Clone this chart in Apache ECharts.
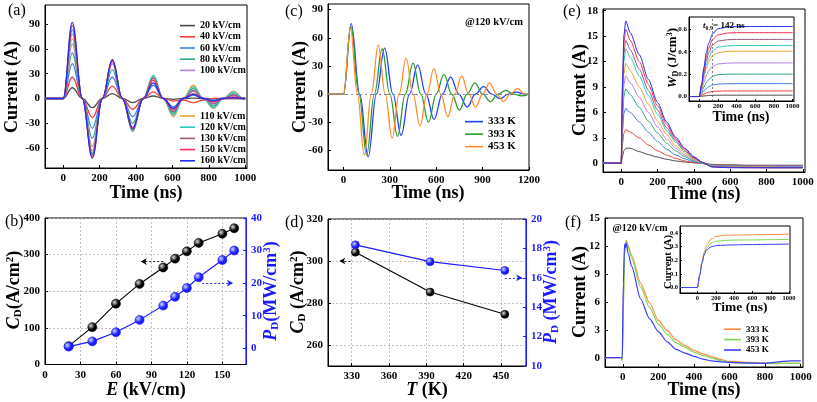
<!DOCTYPE html>
<html><head><meta charset="utf-8">
<script src="https://cdn.jsdelivr.net/npm/echarts@6/dist/echarts.min.js"></script>
<style>html,body{margin:0;padding:0;background:#fff}#c{width:817px;height:402px}</style>
</head><body><div id="c"></div>
<script>
// ---------- DATA ----------
const fields = ['20 kV/cm','40 kV/cm','60 kV/cm','80 kV/cm','100 kV/cm','110 kV/cm','120 kV/cm','130 kV/cm','150 kV/cm','160 kV/cm'];
const fieldColors = ['#4a4a4a','#f23c3c','#3c82e6','#2ca878','#b47ee0','#f0a030','#2ec9c0','#9a5a7a','#ff2d55','#1e2ff0'];

// (a) discharge current vs time, per field
const tA = [-100,-10,0,50,105,160,215,270,325,382,440,495,550,605,660,715,770,825,880,935,990,1000];
const a20  = [0,0,0,13,0,-11,0,6,0,-5,0,3,0,-1,0,0.5,0,-0.3,0,0,0,0];
const a40  = [0,0,0,26,0,-23,0,15,0,-13,0,8,0,-3,-2,-5,-2,0,0,0,0,0];
const a60  = [0,0,0,42,0,-36,0,26,0,-22,0,16,0,-10,0,4,0,-2,0,1,0,0];
const a80  = [0,0,0,55,0,-48,0,35,0,-30,0,27,0,-18,0,12,0,-9,0,6,0,0];
const a100 = [0,0,0,66,0,-58,0,42,0,-35,0,24,0,-14,0,10,0,-7,0,5,0,0];
const a110 = [0,0,0,72,0,-63,0,45,0,-38,0,26,0,-22,0,16,0,-12,0,9,0,0];
const a120 = [0,0,0,78,0,-66,0,46,0,-40,0,28,0,-20,0,14,0,-11,0,8,0,0];
const a130 = [0,0,0,83,0,-68,0,46,0,-38,0,25,0,-16,0,9,0,-6,0,4,0,0];
const a150 = [0,0,0,88,0,-70,0,45,0,-37,0,22,0,-13,0,6,0,-4,0,2,0,0];
const a160 = [0,0,0,92,0,-72,0,47,0,-36,0,19,0,-12,0,5,0,-3,0,1,0,0];

// (c) underdamped current @120 kV/cm, per temperature
const temps = ['333 K','393 K','453 K'];
const c333_t = [-100,-10,0,50,105,160,213,266,320,373,427,480,533,586,640,693,746,800,853,906,960,1013,1066,1120,1173,1200];
const c333_v = [0,0,0,75,0,-67,0,49,0,-44,0,31,0,-27,0,18,0,-14,0,8,0,-5,0,2,0,0];
const c393_t = [-100,-10,0,48,100,150,200,250,300,350,400,450,500,550,600,650,700,750,800,850,900,950,1000,1050,1100,1150,1200];
const c393_v = [0,0,0,72,0,-65,0,48,0,-45,0,33,0,-30,0,21,0,-17,0,12,0,-8,0,4,0,-2,0];
const c453_t = [-100,-10,0,45,90,135,180,225,270,315,360,405,450,495,540,585,630,675,720,765,810,855,900,945,990,1035,1080,1125,1170,1200];
const c453_v = [0,0,0,70,0,-65,0,52,0,-47,0,38,0,-34,0,27,0,-24,0,19,0,-14,0,12,0,-8,0,6,0,0];

// (e) overdamped current vs time, per field
const tE = [-100,-5,0,8,15,25,50,100,150,200,250,300,350,400,450,500,550,600,700,800,900,1000];
const e20  = [0.05,0.05,0,0.9,1.5,1.8,1.8,1.4,1.05,0.75,0.5,0.3,0.18,0.08,0,-0.1,-0.15,-0.15,-0.2,-0.2,-0.2,-0.2];
const e40  = [0.05,0.05,0,2.4,3.6,4.0,3.7,3.0,2.2,1.5,1.0,0.6,0.3,0.1,0,-0.15,-0.2,-0.2,-0.25,-0.25,-0.25,-0.25];
const e60  = [0.05,0.05,0,3.9,5.9,6.5,6.0,4.9,3.7,2.6,1.7,1.0,0.55,0.2,0,-0.2,-0.25,-0.3,-0.3,-0.3,-0.3,-0.3];
const e80  = [0.05,0.05,0,5.3,7.9,8.8,8.1,6.6,5.0,3.6,2.4,1.5,0.8,0.3,0,-0.2,-0.3,-0.3,-0.35,-0.35,-0.35,-0.35];
const e100 = [0.05,0.05,0,6.2,9.3,10.3,9.5,7.8,6.0,4.3,2.9,1.8,1.0,0.4,0.05,-0.25,-0.3,-0.35,-0.4,-0.4,-0.4,-0.4];
const e110 = [0.05,0.05,0,7.1,10.6,11.8,10.9,9.0,7.0,5.0,3.4,2.1,1.2,0.5,0.05,-0.3,-0.35,-0.4,-0.4,-0.4,-0.45,-0.45];
const e120 = [0.05,0.05,0,8.1,12.1,13.5,12.5,10.3,8.0,5.8,3.9,2.5,1.4,0.6,0.1,-0.3,-0.35,-0.4,-0.45,-0.45,-0.45,-0.45];
const e130 = [0.05,0.05,0,8.7,13.0,14.5,13.4,11.1,8.6,6.3,4.2,2.7,1.5,0.65,0.1,-0.35,-0.4,-0.45,-0.45,-0.5,-0.5,-0.5];
const e150 = [0.05,0.05,0,9.5,14.2,15.8,14.5,12.0,9.3,6.8,4.6,2.9,1.7,0.7,0.1,-0.4,-0.45,-0.45,-0.5,-0.5,-0.5,-0.5];
const e160 = [0.05,0.05,0,10.1,15.1,16.8,15.4,12.8,9.9,7.2,4.9,3.1,1.8,0.8,0.1,-0.4,-0.45,-0.5,-0.5,-0.5,-0.5,-0.5];

// (e) inset: discharged energy density W_D vs time
const tW = [-110,0,25,50,75,100,142,200,300,400,600,800,1000];
const w20  = [0,0,0.002,0.005,0.007,0.009,0.011,0.012,0.012,0.012,0.012,0.012,0.012];
const w40  = [0,0,0.009,0.021,0.031,0.038,0.045,0.048,0.05,0.05,0.05,0.05,0.05];
const w60  = [0,0,0.02,0.05,0.07,0.087,0.103,0.111,0.114,0.115,0.115,0.115,0.115];
const w80  = [0,0,0.035,0.085,0.125,0.15,0.18,0.195,0.199,0.2,0.2,0.2,0.2];
const w100 = [0,0,0.055,0.125,0.185,0.23,0.27,0.29,0.298,0.3,0.3,0.3,0.3];
const w110 = [0,0,0.07,0.17,0.25,0.31,0.365,0.39,0.403,0.405,0.405,0.405,0.405];
const w120 = [0,0,0.08,0.19,0.28,0.345,0.41,0.44,0.452,0.455,0.455,0.455,0.455];
const w130 = [0,0,0.09,0.21,0.32,0.39,0.46,0.495,0.507,0.51,0.51,0.51,0.51];
const w150 = [0,0,0.10,0.24,0.35,0.43,0.51,0.55,0.567,0.57,0.57,0.57,0.57];
const w160 = [0,0,0.11,0.26,0.39,0.475,0.56,0.605,0.62,0.625,0.625,0.625,0.625];
const t09 = 142;

// (b) current density and power density vs field
const E_b = [20,40,60,80,100,110,120,130,150,160];
const CD_b = [50,102,166,220,265,289,309,332,357,372];
const PD_b = [0.5,2.1,4.9,8.7,13.1,15.8,18.5,21.8,27.1,30.0];

// (d) current density and power density vs temperature
const T_d = [333,393,453];
const CD_d = [304.2,285.2,274.6];
const PD_d = [18.24,17.1,16.5];

// (f) overdamped current @120 kV/cm per temperature
const tF = [-100,-10,-3,3,10,15,20,30,50,100,150,200,250,300,350,400,450,500,550,600,700,800,850,900,950,1000];
const f333 = [0,0,-0.3,6,11.5,12.3,12.6,12.0,11.0,8.0,5.9,4.0,2.9,1.9,1.3,0.8,0.4,0.1,-0.2,-0.4,-0.5,-0.55,-0.6,-0.6,-0.6,-0.6];
const f393 = [0,0,-0.3,5,11,12.1,12.5,11.9,10.7,7.6,5.4,3.6,2.5,1.6,1.1,0.6,0.25,-0.05,-0.3,-0.5,-0.6,-0.6,-0.65,-0.6,-0.6,-0.6];
const f453 = [0,0,0,8,12.2,11.8,12.3,11.2,9.8,6.3,4.2,2.8,1.7,0.9,0.5,0.15,-0.15,-0.35,-0.45,-0.5,-0.55,-0.6,-0.5,-0.4,-0.35,-0.35];
// (f) inset
const tFI = [-190,0,25,50,75,100,150,200,300,400,600,800,1000];
const fi333 = [0,0,0.09,0.19,0.26,0.31,0.355,0.372,0.382,0.384,0.386,0.388,0.39];
const fi393 = [0,0,0.09,0.18,0.25,0.29,0.325,0.338,0.345,0.347,0.348,0.35,0.352];
const fi453 = [0,0,0.09,0.18,0.24,0.275,0.298,0.306,0.31,0.312,0.314,0.316,0.318];

// tick labels
const tkA_x = [0,200,400,600,800,1000], tkA_y = [-60,-30,0,30,60,90];
const tkC_x = [0,300,600,900,1200], tkC_y = [-60,-30,0,30,60,90];
const tkE_x = [0,200,400,600,800,1000], tkE_y = [0,3,6,9,12,15,18];
const tkEI_x = [0,200,400,600,800,1000], tkEI_y = [0,0.2,0.4,0.6];
const tkB_x = [0,30,60,90,120,150], tkB_yL = [0,100,200,300,400], tkB_yR = [0,10,20,30,40];
const tkD_x = [330,360,390,420,450], tkD_yL = [260,280,300,320], tkD_yR = [10,12,14,16,18,20];
const tkF_x = [0,200,400,600,800,1000], tkF_y = [0,3,6,9,12,15];
const tkFI_x = [0,200,400,600,800,1000], tkFI_y = [0,0.1,0.2,0.3,0.4];

// ---------- CHART ----------
const FONT = 'Liberation Serif';
const BLUE = '#1a1aff';
const chart = echarts.init(document.getElementById('c'), null, {renderer:'canvas'});

function ax(gi, min, max, ticks, o) {
  o = o || {};
  const col = o.color || '#000';
  return {
    type:'value', gridIndex:gi, min, max, position:o.pos, z:o.z||0,
    axisLine:{show:true, onZero:false, lineStyle:{color:col, width:1}},
    axisTick:{show:true, inside:true, length:o.tl||3, customValues:ticks, lineStyle:{color:col}},
    axisLabel:{customValues:ticks, fontFamily:FONT, fontWeight:'bold', fontSize:o.fs||11, color:col, margin:o.m||5,
      formatter:o.fmt || (v => String(v))},
    splitLine:{show:!!o.grid, lineStyle:{color:'#b0b0b0', type:[2,2], width:0.8}}
  };
}
function gridR(left, top, w, h, o) {
  o = o || {};
  return {left, top, width:w, height:h, show:true, borderColor:'#000', borderWidth:1,
    backgroundColor:'#fff', containLabel:false, z:o.z||0};
}
function ln(name, xs, ys, color, xi, yi, o) {
  o = o || {};
  return {type:'line', name, xAxisIndex:xi, yAxisIndex:yi, data:xs.map((x,i)=>[x, ys[i]]),
    showSymbol:false, symbol:'none', smooth:o.smooth==null?0.4:o.smooth, smoothMonotone:'x',
    lineStyle:{color, width:o.w||1.2}, itemStyle:{color}, z:o.z||2, animation:false, silent:true,
    markLine:o.markLine};
}

const grids = [
  gridR(45,5,202,163),     // 0 a
  gridR(328,4,201,166),    // 1 c
  gridR(603,9,202,163),    // 2 e
  gridR(689,17,105,84,{z:5}), // 3 e inset
  gridR(45,218,201,146.5), // 4 b
  gridR(328,219,198,147),  // 5 d
  gridR(605,218,198,149),  // 6 f
  gridR(680,226,110,67,{z:5})  // 7 f inset
];
const fmt1 = v => v.toFixed(1);
const xAxes = [
  ax(0,-100,1010,tkA_x),
  ax(1,-100,1200,tkC_x),
  ax(2,-100,1012,tkE_x),
  ax(3,-110,1015,tkEI_x,{fs:7,m:2,z:6,tl:2}),
  ax(4,0,170,tkB_x,{grid:true}),
  ax(5,311,470,tkD_x,{grid:true}),
  ax(6,-100,1013,tkF_x),
  ax(7,-190,1010,tkFI_x,{fs:6.5,m:2,z:6,tl:2})
];
const yAxes = [
  ax(0,-84,113,tkA_y),                 //0
  ax(1,-81,96,tkC_y),                  //1
  ax(2,-1,18.2,tkE_y),                 //2
  ax(3,-0.04,0.71,tkEI_y,{fs:7,m:2,z:6,tl:2,fmt:fmt1}), //3
  ax(4,0,400,tkB_yL,{grid:true,pos:'left'}), //4
  ax(4,-5,40,tkB_yR,{pos:'right',color:BLUE}), //5
  ax(5,250,320,tkD_yL,{grid:true,pos:'left'}), //6
  ax(5,10,20,tkD_yR,{pos:'right',color:BLUE}), //7
  ax(6,-1,15,tkF_y),                   //8
  ax(7,-0.04,0.45,tkFI_y,{fs:6.5,m:2,z:6,tl:2,fmt:fmt1}) //9
];

const aData = [a20,a40,a60,a80,a100,a110,a120,a130,a150,a160];
const eData = [e20,e40,e60,e80,e100,e110,e120,e130,e150,e160];
const wData = [w20,w40,w60,w80,w100,w110,w120,w130,w150,w160];
const cT = [c333_t,c393_t,c453_t], cV = [c333_v,c393_v,c453_v];
const cColors = ['#1f3fff','#2a9d2a','#ff8c2a'];
const fV = [f333,f393,f453], fiV = [fi333,fi393,fi453];
const fColors = ['#ff8c3a','#7ed957','#3a3aff'];

const series = [];
aData.forEach((d,i)=>series.push(ln(fields[i], tA, d, fieldColors[i], 0, 0, {w:1.3})));
cV.forEach((d,i)=>series.push(ln(temps[i], cT[i], d, cColors[i], 1, 1, {w:1.3,
  markLine: i===0 ? {silent:true, symbol:'none', label:{show:false}, lineStyle:{color:'#8a8a8a', type:[6,3,2,3], width:1}, data:[{yAxis:0}]} : undefined})));
eData.forEach((d,i)=>series.push(ln('e'+fields[i], tE, d, fieldColors[i], 2, 2, {w:1, smooth:0.25})));
wData.forEach((d,i)=>series.push(ln('w'+fields[i], tW, d, fieldColors[i], 3, 3, {w:1, z:7, smooth:0.3,
  markLine: i===9 ? {silent:true, symbol:'none', label:{show:false}, lineStyle:{color:'#666', type:[2,2], width:0.8}, data:[{xAxis:t09}]} : undefined})));
fV.forEach((d,i)=>series.push(ln(temps[i]+' ', tF, d, fColors[i], 6, 8, {w:1.2, smooth:0.25})));
fiV.forEach((d,i)=>series.push(ln('fi'+temps[i], tFI, d, fColors[i], 7, 9, {w:1, z:7, smooth:0.3})));

function ball(base, hi) {
  return {type:'radial', x:0.35, y:0.35, r:0.75, colorStops:[{offset:0,color:hi},{offset:0.55,color:base},{offset:1,color:base}]};
}
function scat(name, xs, ys, xi, yi, col, hi, size, ml) {
  return {type:'line', name, xAxisIndex:xi, yAxisIndex:yi, data:xs.map((x,i)=>[x,ys[i]]),
    symbol:'circle', symbolSize:size, showSymbol:true, lineStyle:{color:col, width:1.1},
    itemStyle:{color:ball(col,hi), borderColor:col, borderWidth:0.6}, z:3, animation:false, silent:true,
    markLine: ml};
}
function arrowML(col, segs) {
  return {silent:true, symbol:['none','arrow'], symbolSize:[5,6], label:{show:false},
    lineStyle:{color:col, type:[2,2], width:0.9}, data:segs.map(s=>[{coord:s[0]},{coord:s[1]}])};
}
series.push(scat('CDb', E_b, CD_b, 4, 4, '#000', '#d8d8d8', 9, arrowML('#000', [[[100,281],[81,281]]])));
series.push(scat('PDb', E_b, PD_b, 4, 5, BLUE, '#c8d8ff', 9, arrowML(BLUE, [[[133,20],[159,20]]])));
series.push(scat('CDd', T_d, CD_d, 5, 6, '#000', '#d8d8d8', 8, arrowML('#000', [[[329,300],[320,300]]])));
series.push(scat('PDd', T_d, PD_d, 5, 7, BLUE, '#c8d8ff', 8, arrowML(BLUE, [[[453,16],[467,16]]])));

const legTxt = (fs, lh) => ({fontFamily:FONT, fontWeight:'bold', fontSize:fs, lineHeight:lh, color:'#000'});
const legBase = {orient:'vertical', icon:'rect', itemHeight:1.6, itemGap:0, padding:0, selectedMode:false,
  formatter: n => n.trim()};
const legend = [
  Object.assign({}, legBase, {data:fields.slice(0,5), left:180, top:20, itemWidth:15, textStyle:legTxt(10,11.2)}),
  Object.assign({}, legBase, {data:fields.slice(5), left:180, top:110.4, itemWidth:15, textStyle:legTxt(10,11.2)}),
  Object.assign({}, legBase, {data:temps, left:465, top:115.4, itemWidth:18, textStyle:legTxt(11,12.5)}),
  Object.assign({}, legBase, {data:temps.map(t=>t+' '), left:724, top:324, itemWidth:17, textStyle:legTxt(9,10.4)})
];

function rs(fs, col, o) {
  return Object.assign({fontFamily:FONT, fontWeight:'bold', fontSize:fs, fill:col, color:col}, o||{});
}
function rich(fs, col) {
  return {
    n: rs(fs, col),
    i: rs(fs, col, {fontStyle:'italic'}),
    s: rs(Math.round(fs*0.62), col, {verticalAlign:'bottom', padding:[Math.round(fs*0.45),0,0,0]}),
    p: rs(Math.round(fs*0.62), col, {verticalAlign:'top', padding:[0,0,Math.round(fs*0.45),0]})
  };
}
function T(x, y, text, fs, o) {
  o = o || {};
  const col = o.color || '#000';
  return {type:'text', x, y, rotation:o.rot||0, silent:true, z:100,
    style:{text, rich:rich(fs,col), fill:col,
      font:(o.normal?'':'bold ')+fs+'px "Liberation Serif"',
      align:o.align||'center', verticalAlign:o.va||'middle',
      textAlign:o.align||'center', textVerticalAlign:o.va||'middle'}};
}
const R = Math.PI/2;
const graphic = [
  T(8,3,'(a)',16,{normal:true,align:'left',va:'top'}),
  T(285,4,'(c)',16,{normal:true,align:'left',va:'top'}),
  T(563,4,'(e)',16,{normal:true,align:'left',va:'top'}),
  T(5,214,'(b)',16,{normal:true,align:'left',va:'top'}),
  T(285,215,'(d)',16,{normal:true,align:'left',va:'top'}),
  T(565,215,'(f)',16,{normal:true,align:'left',va:'top'}),
  T(12,87,'{n|Current (A)}',18,{rot:R}),
  T(300,87,'{n|Current (A)}',18,{rot:R}),
  T(580,90,'{n|Current (A)}',18,{rot:R}),
  T(580,292,'{n|Current (A)}',18,{rot:R}),
  T(146,193,'{n|Time (ns)}',18),
  T(428,193,'{n|Time (ns)}',18),
  T(704,194,'{n|Time (ns)}',18),
  T(704,390,'{n|Time (ns)}',18),
  T(146,390,'{i|E}{n| (kV/cm)}',18),
  T(427,390,'{i|T}{n| (K)}',18),
  T(14,290,'{i|C}{s|D}{n|(A/cm}{p|2}{n|)}',18,{rot:R}),
  T(271,291,'{i|P}{s|D}{n|(MW/cm}{p|3}{n|)}',18,{rot:R,color:BLUE}),
  T(298,292,'{i|C}{s|D}{n| (A/cm}{p|2}{n|)}',18,{rot:R}),
  T(551,292,'{i|P}{s|D}{n| (MW/cm}{p|3}{n|)}',18,{rot:R,color:BLUE}),
  T(494,22,'{n|@120 kV/cm}',10.5),
  T(640,228.5,'{n|@120 kV/cm}',10),
  T(703,26,'{i|t}{s|0.9}{n|= 142 ns}',9,{align:'left'}),
  T(673,58,'{i|W}{s|D}{n| (J/cm}{p|3}{n|)}',13,{rot:R}),
  T(741,117,'{n|Time (ns)}',14),
  T(668,262,'{n|Current (A)}',10.5,{rot:R}),
  T(740,308,'{n|Time (ns)}',13.5)
];

chart.setOption({
  animation:false, backgroundColor:'#fff',
  grid:grids, xAxis:xAxes, yAxis:yAxes, series, legend, graphic
});
</script></body></html>
